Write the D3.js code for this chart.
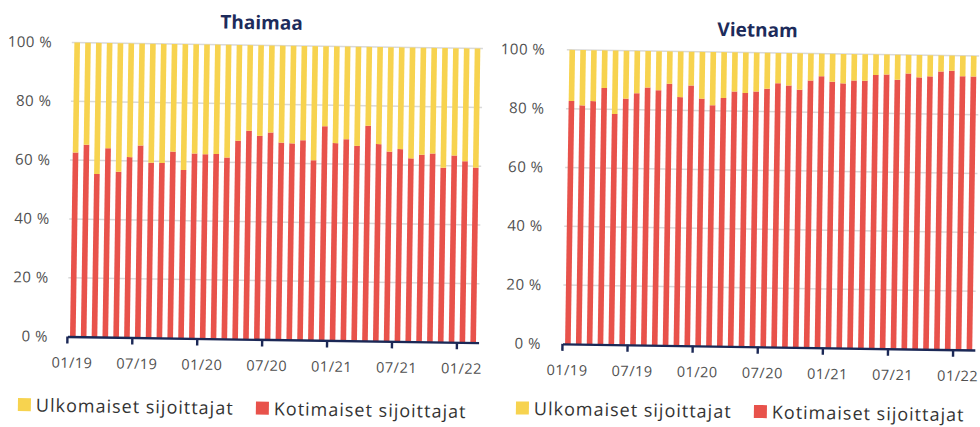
<!DOCTYPE html>
<html>
<head>
<meta charset="utf-8">
<script src="https://cdn.jsdelivr.net/npm/d3@7"></script>
<style>
body { margin: 0; background: #fff; }
svg { display: block; }
</style>
</head>
<body>
<svg width="980" height="427"></svg>
<script>
// months 01/19 .. 02/22
var months = ['01/19','02/19','03/19','04/19','05/19','06/19','07/19','08/19','09/19','10/19','11/19','12/19',
              '01/20','02/20','03/20','04/20','05/20','06/20','07/20','08/20','09/20','10/20','11/20','12/20',
              '01/21','02/21','03/21','04/21','05/21','06/21','07/21','08/21','09/21','10/21','11/21','12/21',
              '01/22','02/22'];
var tickMonths = ['01/19','07/19','01/20','07/20','01/21','07/21','01/22'];
var yTicks = [0, 20, 40, 60, 80, 100];

// share of domestic investors (%), the rest is foreign
var thaiDomestic = [62.6, 65.3, 55.4, 64.2, 56.3, 61.3, 65.3, 59.5, 59.5, 63.4, 57.2, 62.9,
                    62.7, 62.8, 61.7, 67.4, 70.9, 69.2, 70.4, 67.0, 66.8, 67.9, 61.2, 72.8,
                    67.1, 68.5, 66.3, 73.2, 67.0, 64.5, 65.4, 62.3, 63.6, 64.1, 59.3, 63.5,
                    61.6, 59.5];
var vietDomestic = [82.6, 81.2, 82.7, 87.2, 78.4, 83.7, 85.6, 87.6, 86.7, 89.0, 84.5, 88.5,
                    84.1, 81.9, 84.4, 86.7, 86.2, 86.8, 87.8, 89.7, 89.0, 87.6, 90.8, 92.3,
                    90.5, 90.0, 91.0, 91.0, 93.0, 93.2, 91.5, 93.7, 92.4, 92.8, 94.5, 94.8,
                    93.0, 93.0];

var seriesKeys = ['Kotimaiset sijoittajat', 'Ulkomaiset sijoittajat'];
var legendOrder = ['Ulkomaiset sijoittajat', 'Kotimaiset sijoittajat'];
var color = d3.scaleOrdinal().domain(seriesKeys).range(['#e8524b', '#f7d34f']);

var svg = d3.select('svg');
// the source picture is slightly tilted
var root = svg.append('g').attr('transform', 'rotate(0.85,490,200)');

var panels = [
    {title: 'Thaimaa', values: thaiDomestic, x0: 69.5, x1: 480.7, labelGap: 19.5, titleX: 259, legendX: [21, 259], legendY: 405},
    {title: 'Vietnam', values: vietDomestic, x0: 564.6, x1: 977, labelGap: 21.5, titleX: 755, legendX: [519, 757], legendY: 401}
];

var yTop = 48.7, yBot = 342.8;
var ScaleY = d3.scaleLinear().domain([0, 100]).range([yBot, yTop]);

panels.forEach(function(p){
    var g = root.append('g');

    var ScaleX = d3.scaleBand().domain(months).range([p.x0, p.x1])
        .paddingInner(0.48).paddingOuter(0.24);
    var slotOff = (ScaleX.step() - ScaleX.bandwidth()) / 2;

    var rows = months.map(function(m, i){
        var r = {month: m};
        r[seriesKeys[0]] = p.values[i];
        r[seriesKeys[1]] = 100 - p.values[i];
        return r;
    });
    var stacked = d3.stack().keys(seriesKeys)(rows);

    // gridlines
    g.append('g').selectAll('line')
        .data(yTicks.filter(function(d){ return d > 0; }))
        .enter()
        .append('line')
        .attr('x1', p.x0)
        .attr('x2', p.x1)
        .attr('y1', function(d){ return ScaleY(d); })
        .attr('y2', function(d){ return ScaleY(d); })
        .attr('stroke', '#d9d9d9')
        .attr('stroke-width', 1.5);

    // y labels
    var yAx = g.append('g')
        .attr('transform', 'translate(' + p.x0 + ',0)')
        .call(d3.axisLeft(ScaleY).tickValues(yTicks).tickSize(0).tickPadding(p.labelGap)
            .tickFormat(function(d){ return d + ' %'; }));
    yAx.select('.domain').remove();
    yAx.selectAll('text')
        .attr('font-family', 'Open Sans, sans-serif')
        .attr('font-size', 15)
        .attr('letter-spacing', 0.5)
        .attr('fill', '#505050');

    // bars
    g.selectAll('g.series')
        .data(stacked)
        .enter()
        .append('g')
        .attr('class', 'series')
        .attr('fill', function(d){ return color(d.key); })
        .selectAll('rect')
        .data(function(d){ return d; })
        .enter()
        .append('rect')
        .attr('x', function(d){ return ScaleX(d.data.month); })
        .attr('width', ScaleX.bandwidth())
        .attr('y', function(d){ return ScaleY(d[1]); })
        .attr('height', function(d){ return ScaleY(d[0]) - ScaleY(d[1]); });

    // x axis
    var xAx = g.append('g')
        .attr('transform', 'translate(0,' + yBot + ')')
        .call(d3.axisBottom(ScaleX).tickValues(tickMonths).tickSizeOuter(0).tickSizeInner(7).tickPadding(14));
    xAx.select('.domain')
        .attr('stroke', '#1b2856')
        .attr('stroke-width', 2.4);
    xAx.selectAll('.tick line')
        .attr('x1', -ScaleX.bandwidth() / 2 - slotOff)
        .attr('x2', -ScaleX.bandwidth() / 2 - slotOff)
        .attr('stroke', '#1b2856')
        .attr('stroke-width', 2.4);
    xAx.selectAll('.tick text')
        .attr('x', -0.5)
        .attr('font-family', 'Open Sans, sans-serif')
        .attr('font-size', 14.5)
        .attr('letter-spacing', 0.5)
        .attr('fill', '#505050');

    // title
    g.append('text')
        .attr('x', p.titleX)
        .attr('y', 26)
        .attr('dy', '0.35em')
        .attr('text-anchor', 'middle')
        .attr('font-family', 'Open Sans, sans-serif')
        .attr('font-weight', 700)
        .attr('font-size', 19)
        .attr('fill', '#1d2b5b')
        .text(p.title);

    // legend
    var leg = g.selectAll('g.legend')
        .data(legendOrder)
        .enter()
        .append('g')
        .attr('class', 'legend')
        .attr('transform', function(d, i){ return 'translate(' + p.legendX[i] + ',' + p.legendY + ')'; });
    leg.append('rect')
        .attr('width', 13)
        .attr('height', 13)
        .attr('fill', function(d){ return color(d); });
    leg.append('text')
        .attr('x', 18)
        .attr('y', 7)
        .attr('dy', '0.35em')
        .attr('font-family', 'Open Sans, sans-serif')
        .attr('font-size', 18)
        .attr('letter-spacing', 1)
        .attr('fill', '#333')
        .text(function(d){ return d; });
});
</script>
</body>
</html>
